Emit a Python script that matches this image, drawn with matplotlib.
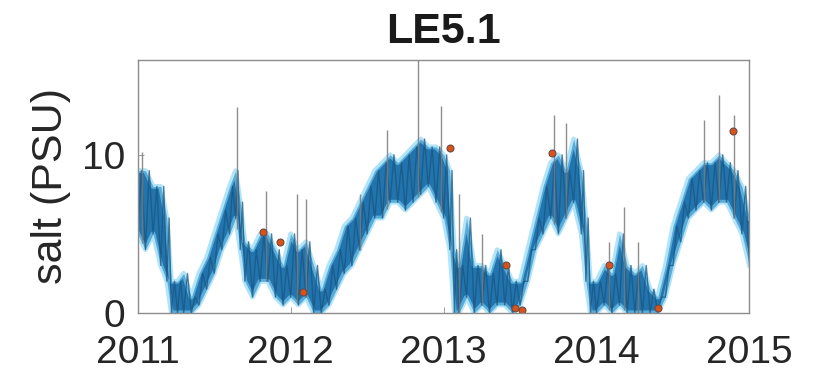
import matplotlib.pyplot as plt
import numpy as np

# modelled salinity spread (low / high edge of the ensemble band), decimal years
band_year = [2011.00, 2011.05, 2011.10, 2011.15, 2011.19, 2011.22, 2011.26, 2011.30, 2011.35,
             2011.40, 2011.45, 2011.50, 2011.55, 2011.60, 2011.64, 2011.67, 2011.70, 2011.75,
             2011.80, 2011.85, 2011.90, 2011.95, 2012.00, 2012.05, 2012.10, 2012.15, 2012.20,
             2012.25, 2012.30, 2012.35, 2012.40, 2012.45, 2012.50, 2012.55, 2012.60, 2012.65,
             2012.70, 2012.75, 2012.80, 2012.85, 2012.90, 2012.95, 2013.00, 2013.04, 2013.07,
             2013.10, 2013.15, 2013.20, 2013.25, 2013.30, 2013.35, 2013.40, 2013.45, 2013.50,
             2013.55, 2013.60, 2013.65, 2013.70, 2013.75, 2013.80, 2013.85, 2013.90, 2013.93,
             2013.96, 2014.00, 2014.05, 2014.10, 2014.15, 2014.20, 2014.25, 2014.30, 2014.35,
             2014.40, 2014.45, 2014.50, 2014.55, 2014.60, 2014.65, 2014.70, 2014.75, 2014.80,
             2014.85, 2014.90, 2014.95, 2015.00]
band_low = [5.0, 4.0, 5.0, 3.0, 2.0, 0.0, 0.0, 0.0, 0.0,
            0.5, 1.5, 2.5, 4.0, 5.0, 6.0, 4.0, 2.0, 1.0,
            2.0, 2.0, 1.0, 0.5, 1.0, 0.5, 1.0, 0.0, 0.0,
            0.5, 1.5, 2.5, 3.0, 4.0, 5.0, 6.0, 6.0, 7.0,
            7.0, 6.5, 7.0, 7.5, 8.0, 7.0, 6.0, 4.0, 0.0,
            0.0, 1.0, 0.0, 0.5, 0.0, 0.5, 0.5, 0.0, 0.5,
            2.0, 4.0, 5.0, 6.0, 5.0, 6.0, 7.0, 5.0, 2.0,
            0.0, 0.0, 0.5, 0.0, 0.5, 0.0, 0.0, 0.0, 0.0,
            0.0, 1.0, 3.0, 4.5, 6.0, 6.5, 7.0, 6.5, 7.0,
            7.0, 6.0, 5.0, 3.0]
band_high = [9.0, 9.0, 8.0, 8.0, 6.0, 2.0, 2.0, 2.5, 1.0,
             2.5, 3.5, 5.0, 6.5, 8.0, 9.0, 7.0, 4.5, 4.0,
             5.0, 5.0, 4.0, 3.0, 5.0, 4.0, 4.5, 3.0, 1.5,
             3.0, 4.0, 5.5, 6.0, 7.0, 8.0, 9.0, 9.5, 10.0,
             9.5, 10.0, 10.5, 11.0, 10.5, 10.5, 10.0, 9.0, 4.0,
             3.0, 6.0, 3.0, 3.0, 2.5, 4.0, 3.0, 2.0, 2.0,
             4.0, 6.0, 8.0, 9.5, 10.0, 9.0, 11.0, 9.0, 6.0,
             2.0, 2.0, 3.0, 2.5, 5.0, 3.0, 2.5, 3.0, 1.5,
             1.0, 3.0, 5.5, 7.0, 8.5, 9.0, 9.5, 9.5, 10.0,
             9.5, 9.0, 8.0, 6.0]

# short-lived peaks in the sensor record
spike_year = [2011.03, 2011.65, 2011.84, 2012.04, 2012.10, 2012.45, 2012.63, 2012.83,
              2012.98, 2013.10, 2013.25, 2013.72, 2013.80, 2014.08, 2014.18, 2014.27,
              2014.70, 2014.80, 2014.90]
spike_top = [10.2, 13.0, 7.7, 7.5, 7.2, 7.5, 11.6, 16.0,
             13.1, 7.5, 5.0, 12.5, 12.0, 4.5, 6.7, 4.5,
             12.2, 13.8, 12.5]

# bottle samples
obs_year = [2011.82, 2011.93, 2012.08, 2013.04, 2013.41, 2013.47, 2013.51, 2013.71,
            2014.08, 2014.40, 2014.89]
obs_salt = [5.1, 4.5, 1.3, 10.4, 3.0, 0.3, 0.2, 10.1, 3.0, 0.3, 11.5]

year_ticks = [2011, 2012, 2013, 2014, 2015]
salt_ticks = [0, 10]


def sawtooth(t, low, high):
    # alternate low/high edges so the band gets a ragged texture
    t = np.asarray(t)
    mid_t = t[:-1] + np.diff(t) / 2
    xs = np.empty(len(t) + len(mid_t))
    ys = np.empty_like(xs)
    xs[0::2], ys[0::2] = t, low
    xs[1::2], ys[1::2] = mid_t, np.asarray(high)[:-1]
    return xs, ys


def plot_station(ax, title):
    # light halo along the band edges
    ax.plot(band_year, band_high, color="#7fd2f5", lw=3.5, alpha=0.6)
    ax.plot(band_year, band_low, color="#7fd2f5", lw=3.5, alpha=0.6)
    ax.fill_between(band_year, band_low, band_high, color="#2174ae", lw=0)
    xs, ys = sawtooth(band_year, band_low, band_high)
    ax.plot(xs, ys, color="#1b5680", lw=1.0, alpha=0.75)

    lows = np.interp(spike_year, band_year, band_low)
    ax.vlines(spike_year, lows, spike_top, color="#7a7a7a", lw=1.0, alpha=0.85)

    ax.plot(obs_year, obs_salt, "o", ms=5, mfc="#d95319", mec="#6a4a45", mew=0.8)

    ax.set_xlim(2011, 2015)
    ax.set_ylim(0, 16)
    ax.set_xticks(year_ticks)
    ax.set_xticklabels([str(y) for y in year_ticks])
    ax.set_yticks(salt_ticks)
    ax.tick_params(direction="in", length=4, width=0.6, color="#909090",
                   labelsize=28, labelcolor="#262626")
    ax.tick_params(axis="x", pad=16)
    ax.tick_params(axis="y", pad=9)
    for spine in ax.spines.values():
        spine.set_color("#8c8c8c")
        spine.set_linewidth(1.0)
    ax.set_ylabel("salt (PSU)", fontsize=31, color="#262626", labelpad=8)
    ax.set_title(title, fontsize=31, fontweight="bold", color="#1a1a1a", pad=12)


if __name__ == "__main__":
    plt.rcParams["font.family"] = ["Liberation Sans", "DejaVu Sans"]
    fig = plt.figure(figsize=(8.2, 3.77), dpi=100)
    ax = fig.add_axes([0.168, 0.170, 0.746, 0.671])
    plot_station(ax, "LE5.1")
    fig.savefig("out.png", dpi=100)
